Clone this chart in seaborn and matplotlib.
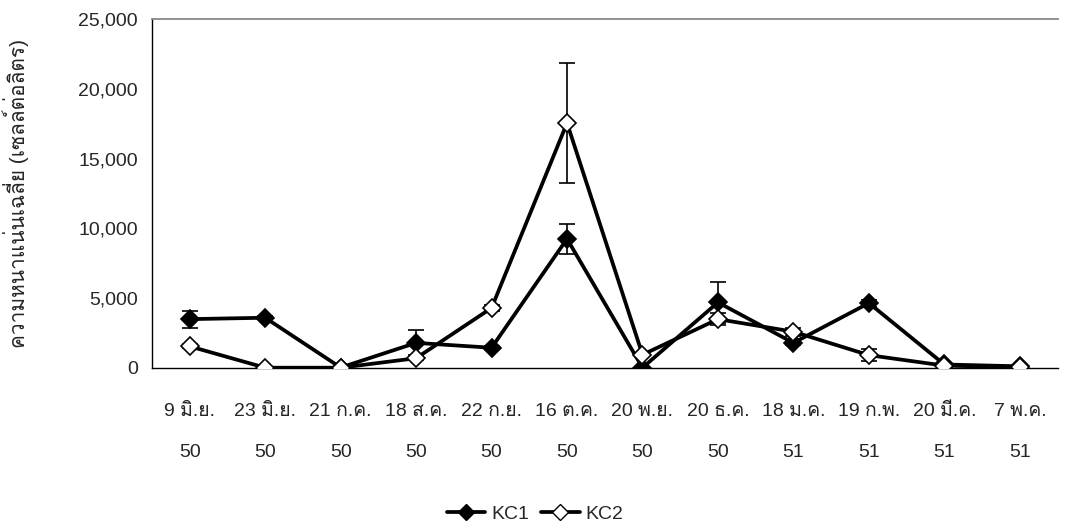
import matplotlib
matplotlib.use("Agg")
import matplotlib.pyplot as plt
from matplotlib import font_manager
from matplotlib.ft2font import FT2Font
from matplotlib.lines import Line2D
import seaborn as sns
import pandas as pd
import numpy as np

# ---- data ----
dates = ["9 มิ.ย.", "23 มิ.ย.", "21 ก.ค.", "18 ส.ค.", "22 ก.ย.", "16 ต.ค.",
         "20 พ.ย.", "20 ธ.ค.", "18 ม.ค.", "19 ก.พ.", "20 มี.ค.", "7 พ.ค."]
years = ["50", "50", "50", "50", "50", "50", "50", "50", "51", "51", "51", "51"]
kc1 = [3500, 3600, 30, 1800, 1450, 9250, 20, 4700, 1800, 4650, 250, 120]
kc1_err = [600, 100, 30, 900, 100, 1100, 20, 1450, 150, 250, 50, 30]
kc2 = [1550, 20, 20, 700, 4300, 17550, 950, 3500, 2600, 920, 170, 50]
kc2_err = [150, 20, 20, 100, 200, 4330, 100, 450, 280, 450, 40, 20]
series_names = ["KC1", "KC2"]
y_ticks = [0, 5000, 10000, 15000, 20000, 25000]

# ---- font with Thai coverage ----
thai_family = None
for fe in font_manager.fontManager.ttflist:
    try:
        cm = FT2Font(fe.fname).get_charmap()
        if 0x0E04 in cm and 0x0E22 in cm:
            thai_family = fe.name
            break
    except Exception:
        pass

sns.set_style("white")
fams = ["Liberation Sans"]
if thai_family:
    fams.append(thai_family)
fams.append("DejaVu Sans")
plt.rcParams["font.family"] = fams

FS = 14

fig = plt.figure(figsize=(10.65, 5.26), dpi=100)
ax = fig.add_axes([0.1427, 0.3004, 0.8503, 0.6635])

idx = np.arange(len(dates))
df = pd.DataFrame({
    "idx": np.concatenate([idx, idx]),
    "value": kc1 + kc2,
    "series": [series_names[0]] * len(kc1) + [series_names[1]] * len(kc2),
})

# error bars first
ax.errorbar(idx, kc1, yerr=kc1_err, fmt="none", ecolor="black",
            elinewidth=1.2, capsize=6, capthick=1.2, zorder=2)
ax.errorbar(idx, kc2, yerr=kc2_err, fmt="none", ecolor="black",
            elinewidth=1.2, capsize=6, capthick=1.2, zorder=2)

sns.lineplot(data=df, x="idx", y="value", hue="series", style="series",
             markers=["D", "D"], dashes=False, palette=["black", "black"],
             linewidth=2.7, markersize=9, legend=False, ax=ax, zorder=3)
for ln in ax.lines:
    ln.set_markeredgecolor("black")
    ln.set_markeredgewidth(1.2)
ax.lines[-1].set_markerfacecolor("white")
ax.lines[-1].set_zorder(4)

ax.set_xlim(-0.5, 11.5)
ax.set_ylim(0, 25000)
ax.set_yticks(y_ticks)
ax.set_yticklabels([f"{v:,}" for v in y_ticks], fontsize=FS)
ax.set_xticks(np.arange(-0.5, 12, 1))
ax.set_xticklabels([])
ax.set_xticks(idx, minor=True)
ax.set_xticklabels([f"{d}\n{y}" for d, y in zip(dates, years)], minor=True,
                   fontsize=FS, linespacing=2.9)
ax.tick_params(axis="x", which="minor", length=0, pad=25)
ax.tick_params(axis="x", which="major", direction="inout", length=14, width=1, color="black")
ax.tick_params(axis="y", direction="out", length=9, width=1, color="black", pad=1)
ax.set_xlabel("")
ax.set_ylabel("ความหนาแน่นเฉลี่ย (เซลล์ต่อลิตร)", fontsize=15)
ax.yaxis.set_label_coords(-(152 - 29) / (0.8503 * 1065), 0.5)

ax.spines["right"].set_visible(False)
ax.spines["top"].set_color("#888888")
ax.spines["top"].set_linewidth(1.3)
for s in ["left", "bottom"]:
    ax.spines[s].set_color("black")
    ax.spines[s].set_linewidth(1)

handles = [
    Line2D([], [], color="black", lw=2.7, marker="D", markersize=8,
           markerfacecolor="black", markeredgecolor="black"),
    Line2D([], [], color="black", lw=2.7, marker="D", markersize=8,
           markerfacecolor="white", markeredgecolor="black"),
]
fig.legend(handles, series_names, loc="center", bbox_to_anchor=(535 / 1065, 1 - 514 / 526),
           ncol=2, frameon=False, fontsize=FS, handlelength=2.0, handletextpad=0.3,
           columnspacing=0.6)

fig.savefig("out.png", dpi=100)
